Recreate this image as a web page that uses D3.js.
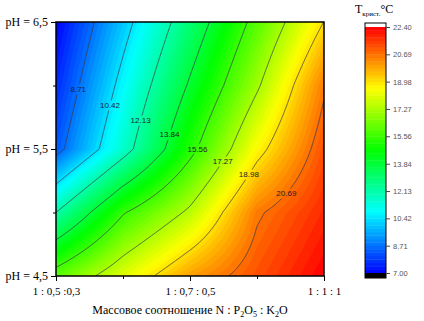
<!DOCTYPE html>
<html>
<head>
<meta charset="utf-8">
<script src="https://cdn.jsdelivr.net/npm/d3@7"></script>
<style>
  body { margin: 0; background: #fff; }
  svg { display: block; }
</style>
</head>
<body>
<svg></svg>
<script>
/*
 * Data
 */
const ratioLabels = ["1 : 0,5 :0,3", "1 : 0,7 : 0,5", "1 : 1 : 1"];
const phMajor = [4.5, 5.5, 6.5];
const phMinor = [5.0, 6.0];
const ratioMinor = [0.5, 1.5];
// grid nodes: columns are ratio positions (incl. midpoints), rows are pH
const gridRatio = [0, 0.5, 1, 1.5, 2];
const gridPh = [6.5, 6.0, 5.5, 5.0, 4.5];
const tempGrid = [
  [7.00, 9.97, 12.96, 16.00, 19.00],
  [7.60, 10.80, 14.00, 17.10, 20.55],
  [8.30, 11.58, 15.18, 18.59, 21.20],
  [12.13, 15.46, 17.50, 20.55, 21.80],
  [16.10, 18.10, 20.00, 21.20, 22.40]
];
const levels = [7.00, 8.71, 10.42, 12.13, 13.84, 15.56, 17.27, 18.98, 20.69, 22.40];
const lineLevels = levels.slice(1, 9);

/*
 * Layout constants
 */
const SVG_WIDTH = 424;
const SVG_HEIGHT = 321;
const PLOT = { left: 56, top: 22, right: 324, bottom: 276 };
const CB = { x: 365, w: 21, top: 23, bottom: 278, lo: 273, hi: 27 };
const PAD = 4;
const BAND_COUNT = 72;
const SERIF = "'Liberation Serif', 'Times New Roman', serif";
const SANS = "'Liberation Sans', Arial, sans-serif";

const svg = d3.select("svg")
  .attr("width", SVG_WIDTH)
  .attr("height", SVG_HEIGHT);

const x = d3.scaleLinear().domain([0, 2]).range([PLOT.left, PLOT.right]);
const y = d3.scaleLinear().domain([4.5, 6.5]).range([PLOT.bottom, PLOT.top]);

const zMin = levels[0];
const zMax = levels[levels.length - 1];
const bandStep = (zMax - zMin) / BAND_COUNT;
const rainbow = d3.scaleLinear()
  .domain([0, 0.25, 0.5, 0.75, 1])
  .range(["#0000ff", "#00ffff", "#00ff00", "#ffff00", "#ff0000"]);
const bandColor = i => rainbow((i + 0.5) / BAND_COUNT);

// bilinear lookup in the grid
function tempAt(u, ph) {
  const nc = gridRatio.length - 1, nr = gridPh.length - 1;
  let c = (u - gridRatio[0]) / (gridRatio[1] - gridRatio[0]);
  let r = (gridPh[0] - ph) / (gridPh[0] - gridPh[1]);
  c = Math.max(0, Math.min(nc, c));
  r = Math.max(0, Math.min(nr, r));
  const c0 = Math.min(nc - 1, Math.floor(c)), r0 = Math.min(nr - 1, Math.floor(r));
  const fc = c - c0, fr = r - r0;
  const a = tempGrid[r0][c0], b = tempGrid[r0][c0 + 1];
  const d = tempGrid[r0 + 1][c0], e = tempGrid[r0 + 1][c0 + 1];
  return (a * (1 - fc) + b * fc) * (1 - fr) + (d * (1 - fc) + e * fc) * fr;
}

// sample on a pixel raster slightly larger than the plot
const nx = (PLOT.right - PLOT.left) + 2 * PAD;
const ny = (PLOT.bottom - PLOT.top) + 2 * PAD;
const values = new Float64Array(nx * ny);
for (let j = 0; j < ny; j++) {
  for (let i = 0; i < nx; i++) {
    const px = PLOT.left - PAD + i + 0.5;
    const py = PLOT.top - PAD + j + 0.5;
    values[j * nx + i] = tempAt(x.invert(px), y.invert(py));
  }
}

const defs = svg.append("defs");
defs.append("clipPath").attr("id", "plotClip")
  .append("rect")
  .attr("x", PLOT.left).attr("y", PLOT.top)
  .attr("width", PLOT.right - PLOT.left)
  .attr("height", PLOT.bottom - PLOT.top);

const path = d3.geoPath();
const offset = `translate(${PLOT.left - PAD},${PLOT.top - PAD})`;

// filled bands
const fillG = svg.append("g").attr("clip-path", "url(#plotClip)");
fillG.append("rect")
  .attr("x", PLOT.left).attr("y", PLOT.top)
  .attr("width", PLOT.right - PLOT.left)
  .attr("height", PLOT.bottom - PLOT.top)
  .attr("fill", bandColor(0));
const bandThresholds = d3.range(BAND_COUNT).map(i => zMin + i * bandStep);
const bands = d3.contours().size([nx, ny]).thresholds(bandThresholds)(values);
fillG.append("g").attr("transform", offset)
  .selectAll("path")
  .data(bands)
  .join("path")
  .attr("d", path)
  .attr("fill", (d, i) => bandColor(i))
  .attr("stroke", (d, i) => bandColor(i))
  .attr("stroke-width", 0.3);

// contour lines
const lines = d3.contours().size([nx, ny]).thresholds(lineLevels)(values);

// place labels where each line crosses a diagonal guide
const guideA = [80, 90], guideB = [277, 189];
function guideDist(p) {
  const dx = guideB[0] - guideA[0], dy = guideB[1] - guideA[1];
  const len = Math.hypot(dx, dy);
  const t = ((p[0] - guideA[0]) * dx + (p[1] - guideA[1]) * dy) / (len * len);
  const cross = Math.abs((p[0] - guideA[0]) * dy - (p[1] - guideA[1]) * dx) / len;
  return (t < -0.15 || t > 1.15) ? Infinity : cross;
}
const labels = lines.map(ml => {
  let best = null, bestD = Infinity;
  ml.coordinates.forEach(poly => poly.forEach(ring => ring.forEach(pt => {
    const p = [pt[0] + PLOT.left - PAD, pt[1] + PLOT.top - PAD];
    if (p[0] < PLOT.left + 3 || p[0] > PLOT.right - 3 || p[1] < PLOT.top + 3 || p[1] > PLOT.bottom - 3) return;
    const dd = guideDist(p);
    if (dd < bestD) { bestD = dd; best = p; }
  })));
  return { value: ml.value, pos: best };
}).filter(d => d.pos);

const mask = defs.append("mask").attr("id", "labelMask")
  .attr("maskUnits", "userSpaceOnUse")
  .attr("x", 0).attr("y", 0).attr("width", SVG_WIDTH).attr("height", SVG_HEIGHT);
mask.append("rect").attr("width", SVG_WIDTH).attr("height", SVG_HEIGHT).attr("fill", "white");

const lineG = svg.append("g").attr("clip-path", "url(#plotClip)");
lineG.append("g")
  .attr("mask", "url(#labelMask)")
  .append("g")
  .attr("transform", offset)
  .selectAll("path")
  .data(lines)
  .join("path")
  .attr("d", path)
  .attr("fill", "none")
  .attr("stroke", "#3a3a4a")
  .attr("stroke-width", 0.8);

const labelText = svg.append("g")
  .selectAll("text")
  .data(labels)
  .join("text")
  .attr("x", d => d.pos[0])
  .attr("y", d => d.pos[1])
  .attr("dy", "0.35em")
  .attr("text-anchor", "middle")
  .attr("font-family", SANS)
  .attr("font-size", 8)
  .attr("fill", "#1c1c2c")
  .text(d => d.value.toFixed(2));

labelText.each(function (d) {
  const w = this.getComputedTextLength() + 3;
  mask.append("rect")
    .attr("x", d.pos[0] - w / 2)
    .attr("y", d.pos[1] - 5)
    .attr("width", w)
    .attr("height", 10)
    .attr("fill", "black");
});

// frame
svg.append("rect")
  .attr("x", PLOT.left).attr("y", PLOT.top)
  .attr("width", PLOT.right - PLOT.left)
  .attr("height", PLOT.bottom - PLOT.top)
  .attr("fill", "none")
  .attr("stroke", "#000")
  .attr("stroke-width", 1.5);

// axes
function styleAxis(g) {
  g.select(".domain").remove();
  g.selectAll(".tick line").attr("stroke", "#000").attr("stroke-width", 1);
  g.selectAll("text").attr("fill", "#000").attr("font-family", SERIF);
}

svg.append("g")
  .attr("transform", `translate(${PLOT.left},0)`)
  .call(d3.axisLeft(y).tickValues(phMajor).tickSize(5).tickPadding(3)
    .tickFormat(d => "pH = " + d.toFixed(1).replace(".", ",")))
  .call(styleAxis)
  .selectAll("text").attr("font-size", 12);

svg.append("g")
  .attr("transform", `translate(${PLOT.left},0)`)
  .call(d3.axisLeft(y).tickValues(phMinor).tickSize(3).tickFormat(""))
  .call(styleAxis);

svg.append("g")
  .attr("transform", `translate(0,${PLOT.bottom})`)
  .call(d3.axisBottom(x).tickValues([0, 1, 2]).tickSize(5).tickPadding(6)
    .tickFormat(i => ratioLabels[i]))
  .call(styleAxis)
  .selectAll("text").attr("font-size", 11);

svg.append("g")
  .attr("transform", `translate(0,${PLOT.bottom})`)
  .call(d3.axisBottom(x).tickValues(ratioMinor).tickSize(3).tickFormat(""))
  .call(styleAxis);

// x title
const xt = svg.append("text")
  .attr("x", (PLOT.left + PLOT.right) / 2)
  .attr("y", 314)
  .attr("text-anchor", "middle")
  .attr("font-family", SERIF)
  .attr("font-size", 12)
  .attr("fill", "#000");
xt.append("tspan").text("Массовое соотношение N : P");
xt.append("tspan").attr("font-size", 8).attr("dy", 3).text("2");
xt.append("tspan").attr("dy", -3).text("O");
xt.append("tspan").attr("font-size", 8).attr("dy", 3).text("5");
xt.append("tspan").attr("dy", -3).text(" : K");
xt.append("tspan").attr("font-size", 8).attr("dy", 3).text("2");
xt.append("tspan").attr("dy", -3).text("O");

/*
 * Color bar
 */
const cbY = d3.scaleLinear().domain([zMin, zMax]).range([CB.lo, CB.hi]);
const cb = svg.append("g");
cb.append("rect")
  .attr("x", CB.x).attr("y", CB.top)
  .attr("width", CB.w).attr("height", CB.hi - CB.top)
  .attr("fill", "#fff");
cb.selectAll("rect.band")
  .data(d3.range(BAND_COUNT))
  .join("rect")
  .attr("class", "band")
  .attr("x", CB.x)
  .attr("y", i => cbY(zMin + (i + 1) * bandStep))
  .attr("width", CB.w)
  .attr("height", i => cbY(zMin + i * bandStep) - cbY(zMin + (i + 1) * bandStep) + 0.4)
  .attr("fill", i => bandColor(i));
cb.append("rect")
  .attr("x", CB.x).attr("y", CB.lo)
  .attr("width", CB.w).attr("height", CB.bottom - CB.lo)
  .attr("fill", "#000");
cb.append("rect")
  .attr("x", CB.x).attr("y", CB.top)
  .attr("width", CB.w).attr("height", CB.bottom - CB.top)
  .attr("fill", "none")
  .attr("stroke", "#000")
  .attr("stroke-width", 1);

svg.append("g")
  .attr("transform", `translate(${CB.x + CB.w},0)`)
  .call(d3.axisRight(cbY).tickValues(levels).tickSize(4).tickPadding(3)
    .tickFormat(d3.format(".2f")))
  .call(g => g.select(".domain").remove())
  .call(g => g.selectAll(".tick line").attr("stroke", "#444"))
  .call(g => g.selectAll("text")
    .attr("fill", "#555")
    .attr("font-family", SANS)
    .attr("font-size", 7.5));

// color bar title
const ct = svg.append("text")
  .attr("x", 355)
  .attr("y", 13)
  .attr("font-family", SERIF)
  .attr("font-size", 12)
  .attr("fill", "#000");
ct.append("tspan").text("T");
ct.append("tspan").attr("font-size", 7).attr("dy", 3).text("крист.");
ct.append("tspan").attr("dy", -3).text("°C");
</script>
</body>
</html>
